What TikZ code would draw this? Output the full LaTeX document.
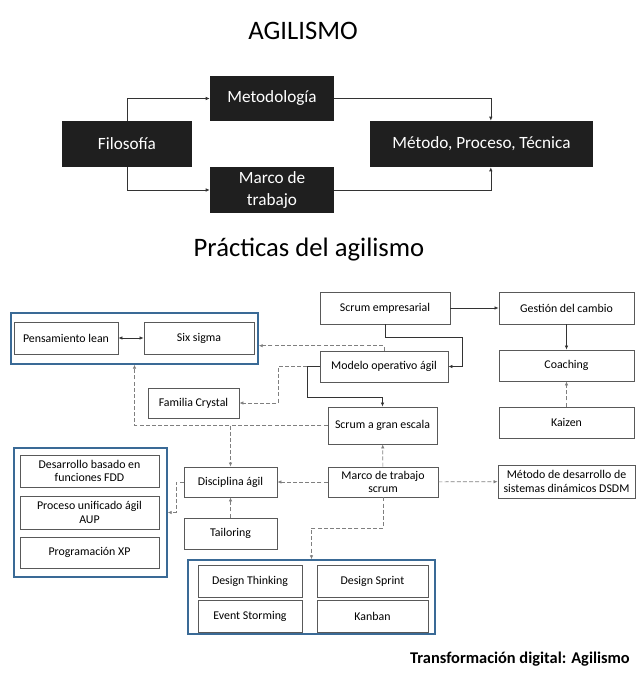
\documentclass[tikz,border=0pt]{standalone}
\usepackage{fontspec}
\setmainfont{Carlito}
\usetikzlibrary{arrows.meta}

\definecolor{grpblue}{HTML}{3A6A96}
\definecolor{boxline}{HTML}{595959}
\definecolor{dashline}{HTML}{7F7F7F}

\tikzset{
  wh/.style 2 args={minimum width=#1*0.75pt, minimum height=#2*0.75pt},
  topbox/.style={fill=black!88, text=white, inner sep=0pt, align=center,
    font=\fontsize{12.9}{15.8}\selectfont},
  box/.style={draw=boxline, fill=white, line width=0.6pt, inner sep=0pt, align=center,
    font=\fontsize{8.9}{10.3}\selectfont},
  grp/.style={draw=grpblue, line width=1.1pt, inner sep=0pt},
  arr/.style={-{Latex[length=3pt,width=2.6pt]}, line width=0.5pt, draw=black!80},
  dsh/.style={arr, draw=dashline, dash pattern=on 3pt off 1.6pt},
}

\begin{document}
\begin{tikzpicture}[x=0.75pt, y=-0.75pt]
  \useasboundingbox (0,0) rectangle (640,673);

  % titles
  \node[font=\fontsize{20}{24}\selectfont] (title) at (303,31) {AGILISMO};
  \node[font=\fontsize{20}{24}\selectfont] (subtitle) at (309,250) {Prácticas del agilismo};

  % upper part
  \node[topbox, wh={130}{46}] (filo) at (127,144) {Filosofía};
  \node[topbox, wh={124}{45}] (meto) at (272,98.5) {Metodología};
  \node[topbox, wh={124}{46}] (marco) at (272,190) {Marco de\\trabajo};
  \node[topbox, wh={223}{46}] (metodo) at (481.5,144) {Método, Proceso, Técnica};

  \draw[arr] (filo.north) |- (meto.west);
  \draw[arr] (filo.south) |- (marco.west);
  \draw[arr] (meto.east) -| ([xshift=7pt]metodo.north);
  \draw[arr] (marco.east) -| ([xshift=7pt]metodo.south);

  % groups
  \node[grp, wh={247}{51}] (g1) at (134.5,338.5) {};
  \node[grp, wh={153}{129}] (g2) at (90.5,512.5) {};
  \node[grp, wh={247}{74}] (g3) at (311.5,597) {};

  \node[box, wh={104}{32}] (lean) at (66,338) {Pensamiento lean};
  \node[box, wh={110}{32}] (six) at (199,338) {Six sigma};

  \node[box, wh={139}{32}] (fdd) at (89.5,471) {Desarrollo basado en\\funciones FDD};
  \node[box, wh={139}{33}] (aup) at (89.5,512.5) {Proceso unificado ágil\\AUP};
  \node[box, wh={139}{31}] (xp) at (89.5,552.5) {Programación XP};

  \node[box, wh={104}{32}] (dthink) at (250,581) {Design Thinking};
  \node[box, wh={104}{32}] (estorm) at (250,616) {Event Storming};
  \node[box, wh={111}{32}] (dsprint) at (372.5,581) {Design Sprint};
  \node[box, wh={111}{32}] (kanban) at (372.5,616) {Kanban};

  % single boxes
  \node[box, wh={130}{32}] (scrumemp) at (385,308) {Scrum empresarial};
  \node[box, wh={135}{32}] (gestion) at (566.5,308) {Gestión del cambio};
  \node[box, wh={135}{31}] (coach) at (566.5,365.5) {Coaching};
  \node[box, wh={135}{31}] (kaizen) at (566.5,422.5) {Kaizen};
  \node[box, wh={128}{31}] (modelo) at (384,366.5) {Modelo operativo ágil};
  \node[box, wh={91}{30}] (crystal) at (193.5,403) {Familia Crystal};
  \node[box, wh={109}{37}] (gran) at (382.5,425.5) {Scrum a gran escala};
  \node[box, wh={93}{30}] (disc) at (230.5,482) {Disciplina ágil};
  \node[box, wh={93}{31}] (tail) at (230.5,533.5) {Tailoring};
  \node[box, wh={110}{30}] (mscrum) at (383,482) {Marco de trabajo\\scrum};
  \node[box, wh={137}{33}] (dsdm) at (566.5,481.5) {Método de desarrollo de\\sistemas dinámicos DSDM};

  % connectors
  \draw[arr, {Latex[length=3pt,width=2.6pt]}-{Latex[length=3pt,width=2.6pt]}] (lean) -- (six);
  \draw[arr] (scrumemp) -- (gestion);
  \draw[arr] (gestion) -- (coach);
  \draw[dsh] (kaizen) -- (coach);
  \draw[arr] (scrumemp.south) |- (462,337) |- (modelo.east);
  \draw[dsh] (modelo.north) |- ([yshift=-5.4pt]g1.east);
  \draw[dsh] (modelo.west) -- (278,366.5) |- (crystal.east);
  \draw[arr] (modelo.west) -| (307,397) -| (gran.north);
  \draw[dsh] (gran.west) -| (g1.south);
  \draw[dsh] (disc.north |- gran.west) -- (disc.north);
  \draw[dsh] (tail) -- (disc);
  \draw[dsh] (disc.west) -- (176,482) |- (g2.east);
  \draw[dsh] (mscrum) -- (disc);
  \draw[dsh] (mscrum) -- (dsdm);
  \draw[dsh] (mscrum) -- (gran);
  \draw[dsh] (mscrum.south) |- (311.5,528) -- (g3.north);

  \node[anchor=east, inner sep=0pt, font=\bfseries\fontsize{12.3}{14}\selectfont] (foot) at (630,659)
    {Transformación digital: Agilismo};
\end{tikzpicture}
\end{document}
